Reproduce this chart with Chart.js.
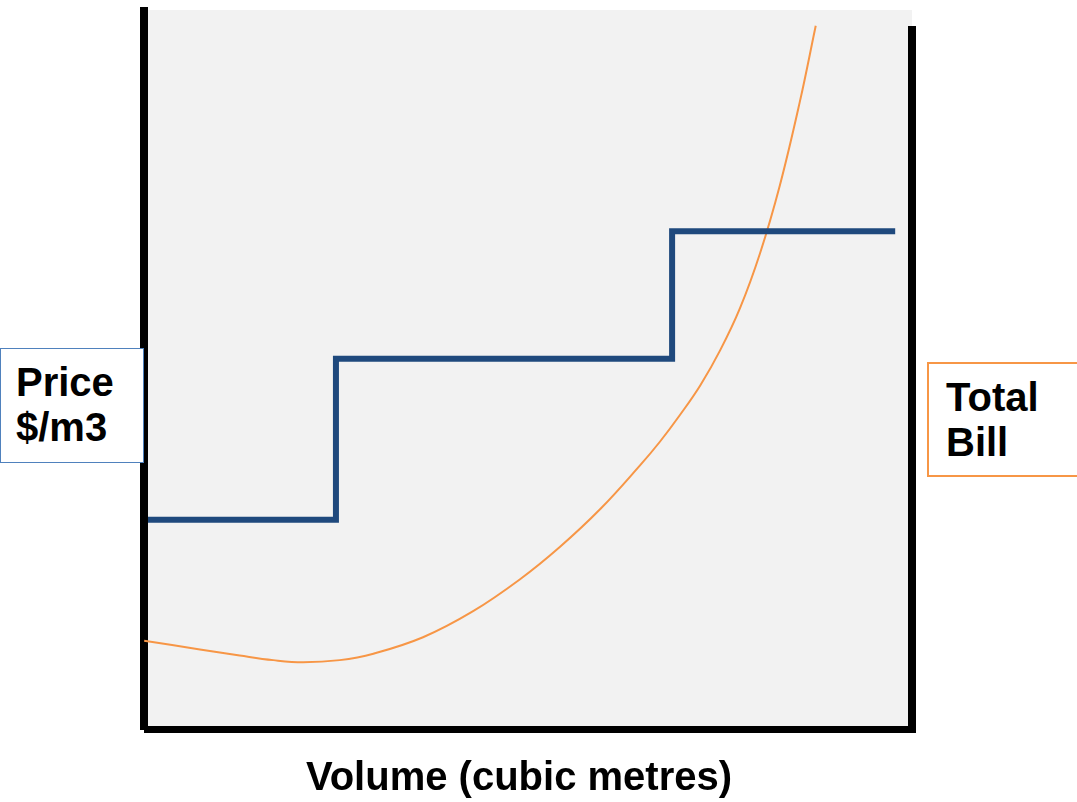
<!DOCTYPE html>
<html>
<head>
<meta charset="utf-8">
<script src="https://cdn.jsdelivr.net/npm/chart.js@4"></script>
<style>
  html, body { margin: 0; padding: 0; background: #ffffff; }
  #wrap { position: relative; width: 1077px; height: 802px; overflow: hidden; font-family: "Liberation Sans", Arial, sans-serif; }
  #chart { position: absolute; left: 0; top: 0; }
  .tag { position: absolute; box-sizing: border-box; background: #ffffff; font-weight: bold; font-size: 40px; line-height: 45px; color: #000; }
  #priceTag { left: 0; top: 348px; width: 144px; height: 115px; border: 1.5px solid #4F81BD; padding: 11px 0 0 15px; }
  #billTag { left: 927px; top: 362px; width: 170px; height: 115px; border: 2px solid #F79646; padding: 11px 0 0 17px; }
  #xTitle { position: absolute; left: 0; width: 1038px; top: 756px; text-align: center; font-weight: bold; font-size: 40px; line-height: 40px; color: #000; }
</style>
</head>
<body>
<div id="wrap">
  <canvas id="chart" width="1077" height="802"></canvas>
  <div class="tag" id="priceTag">Price<br>$/m3</div>
  <div class="tag" id="billTag">Total<br>Bill</div>
  <div id="xTitle">Volume (cubic metres)</div>
</div>
<script>
// Block tariff: price per cubic metre for each consumption block
const blockVolume = [0, 24.6, 68.6, 97.8];
const blockPrice  = [28.8, 51.3, 69.1, 69.1];

// Total bill as consumption grows
const billVolume = [-0.5, 6.8, 12.0, 16.4, 20.3, 25.1, 29.5, 36.0, 42.5, 48.7, 53.9, 59.2, 64.4, 67.0, 69.6, 72.3, 74.9, 77.5, 80.1, 82.7, 85.3, 87.4];
const billAmount = [11.9, 10.7, 9.85, 9.2, 8.9, 9.2, 10.1, 12.4, 16.0, 20.5, 25.0, 30.3, 36.4, 39.7, 43.4, 47.6, 52.5, 58.4, 66.0, 75.5, 87.1, 97.8];

const toPoints = (xs, ys) => xs.map((x, i) => ({ x: x, y: ys[i] }));

// Grey plotting panel with heavy black frame lines
const framePlugin = {
  id: 'frame',
  beforeDatasetsDraw(chart) {
    const { ctx, chartArea: a } = chart;
    ctx.save();
    ctx.fillStyle = '#F2F2F2';
    ctx.fillRect(a.left, a.top, a.right - a.left, a.bottom - a.top);
    ctx.fillStyle = '#000000';
    ctx.fillRect(a.left - 8, a.top - 3, 8, a.bottom - a.top + 7);
    ctx.fillRect(a.right - 4, a.top + 16, 8, a.bottom - a.top - 9);
    ctx.fillRect(a.left - 4, a.bottom, a.right - a.left + 4, 7);
    ctx.restore();
  }
};

new Chart(document.getElementById('chart'), {
  type: 'line',
  data: {
    datasets: [
      {
        label: 'Price $/m3',
        data: toPoints(blockVolume, blockPrice),
        borderColor: '#1F497D',
        borderWidth: 6,
        stepped: true,
        pointRadius: 0,
        fill: false,
        clip: 10
      },
      {
        label: 'Total Bill',
        data: toPoints(billVolume, billAmount),
        borderColor: '#F79646',
        borderWidth: 2,
        tension: 0.4,
        pointRadius: 0,
        fill: false,
        clip: 10
      }
    ]
  },
  options: {
    responsive: false,
    animation: false,
    events: [],
    layout: { padding: { left: 148, right: 165, top: 10, bottom: 76 } },
    scales: {
      x: { type: 'linear', min: 0, max: 100, display: false },
      y: { type: 'linear', min: 0, max: 100, display: false }
    },
    plugins: {
      legend: { display: false },
      tooltip: { enabled: false },
      title: { display: false }
    }
  },
  plugins: [framePlugin]
});
</script>
</body>
</html>
